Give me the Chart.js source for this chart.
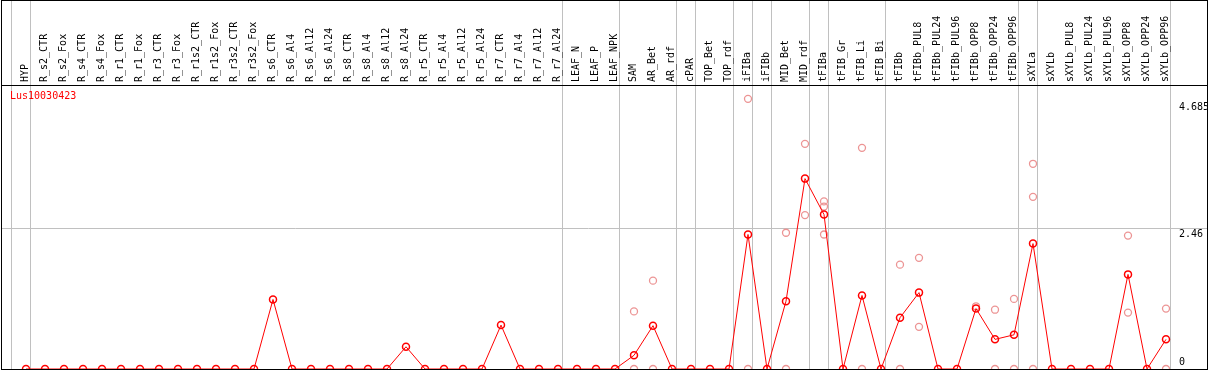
<!DOCTYPE html>
<html>
<head>
<meta charset="utf-8">
<script src="https://cdn.jsdelivr.net/npm/chart.js@4/dist/chart.umd.min.js"></script>
<style>
  body { margin: 0; background: #fff; }
  #box { position: absolute; left: 1px; top: 0; width: 1205px; height: 368px; border: 1px solid #000; }
  #gene { position: absolute; left: 10px; top: 90px; font: 10px "DejaVu Sans Mono"; line-height: 12px; color: #ff0000; }
</style>
</head>
<body>
<div id="box"><canvas id="expr_chart" width="1205" height="368"></canvas></div>
<div id="gene"></div>
<script>
const geneName = 'Lus10030423';

const samples = [
  'HYP', 'R_s2_CTR', 'R_s2_Fox', 'R_s4_CTR', 'R_s4_Fox', 'R_r1_CTR', 'R_r1_Fox', 'R_r3_CTR', 'R_r3_Fox',
  'R_r1s2_CTR', 'R_r1s2_Fox', 'R_r3s2_CTR', 'R_r3s2_Fox',
  'R_s6_CTR', 'R_s6_Al4', 'R_s6_Al12', 'R_s6_Al24', 'R_s8_CTR', 'R_s8_Al4', 'R_s8_Al12', 'R_s8_Al24',
  'R_r5_CTR', 'R_r5_Al4', 'R_r5_Al12', 'R_r5_Al24', 'R_r7_CTR', 'R_r7_Al4', 'R_r7_Al12', 'R_r7_Al24',
  'LEAF_N', 'LEAF_P', 'LEAF_NPK', 'SAM', 'AR_Bet', 'AR_rdf', 'cPAR', 'TOP_Bet', 'TOP_rdf',
  'iFIBa', 'iFIBb', 'MID_Bet', 'MID_rdf', 'tFIBa', 'tFIB_Gr', 'tFIB_Li', 'tFIB_Bi', 'tFIBb',
  'tFIBb_PUL8', 'tFIBb_PUL24', 'tFIBb_PUL96', 'tFIBb_OPP8', 'tFIBb_OPP24', 'tFIBb_OPP96',
  'sXYLa', 'sXYLb', 'sXYLb_PUL8', 'sXYLb_PUL24', 'sXYLb_PUL96', 'sXYLb_OPP8', 'sXYLb_OPP24', 'sXYLb_OPP96'
];

// mean expression per sample
const expression = [
  0, 0, 0, 0, 0, 0, 0, 0, 0, 0, 0, 0, 0,
  1.22, 0, 0, 0, 0, 0, 0, 0.39,
  0, 0, 0, 0, 0.77, 0, 0, 0,
  0, 0, 0,
  0.24, 0.76, 0, 0, 0, 0,
  2.36, 0, 1.19, 3.34, 2.71,
  0, 1.29, 0, 0.90,
  1.34, 0, 0, 1.06, 0.52, 0.60,
  2.20, 0,
  0, 0, 0, 1.66, 0, 0.52
];

// single replicates (faint circles)
const repSample = [
  'SAM', 'SAM', 'AR_Bet', 'AR_Bet', 'iFIBa', 'iFIBa', 'MID_Bet', 'MID_Bet', 'MID_rdf', 'MID_rdf',
  'tFIBa', 'tFIBa', 'tFIBa', 'tFIB_Li', 'tFIB_Li', 'tFIBb', 'tFIBb', 'tFIBb_PUL8', 'tFIBb_PUL8',
  'tFIBb_OPP8', 'tFIBb_OPP24', 'tFIBb_OPP24', 'tFIBb_OPP96', 'tFIBb_OPP96',
  'sXYLa', 'sXYLa', 'sXYLa', 'sXYLb_OPP8', 'sXYLb_OPP8', 'sXYLb_OPP96', 'sXYLb_OPP96'
];
const repValue = [
  1.01, 0, 1.55, 0, 4.74, 0, 2.39, 0, 3.95, 2.70,
  2.94, 2.85, 2.36, 3.88, 0, 1.83, 0, 1.95, 0.74,
  1.10, 1.04, 0, 1.23, 0,
  3.60, 3.02, 0, 2.34, 0.99, 1.06, 0
];

// last sample of each group, a grey line follows it
const groupEnds = [-1, 0, 28, 31, 34, 35, 37, 38, 39, 41, 42, 45, 52, 53, 60];
const yTicks = [0, 2.46, 4.685];

const monoFont = { family: 'DejaVu Sans Mono', size: 10 };
const xMin = -24 / 19;
const xMax = xMin + 1173 / 19;
const yMax = 284 / 57;

document.getElementById('gene').textContent = geneName;

new Chart(document.getElementById('expr_chart'), {
    type: 'line',
    data: {
        datasets: [
            {
                label: geneName,
                data: expression.map((v, i) => ({ x: i, y: v })),
                borderColor: '#ff0000',
                borderWidth: 1,
                tension: 0,
                pointRadius: 3.5,
                pointBorderWidth: 1.5,
                pointBorderColor: '#ff0000',
                pointBackgroundColor: 'rgba(0,0,0,0)'
            },
            {
                label: 'replicates',
                data: repValue.map((v, i) => ({ x: samples.indexOf(repSample[i]), y: v })),
                showLine: false,
                pointRadius: 3.5,
                pointBorderWidth: 1.3,
                pointBorderColor: '#ec9494',
                pointBackgroundColor: 'rgba(0,0,0,0)'
            }
        ]
    },
    options: {
        animation: false,
        responsive: false,
        devicePixelRatio: 1,
        layout: { padding: 0, autoPadding: false },
        plugins: {
            legend: { display: false },
            tooltip: { enabled: false }
        },
        scales: {
            x: {
                type: 'linear',
                position: 'top',
                min: xMin,
                max: xMax,
                afterBuildTicks: (scale) => {
                    const t = samples.map((_, i) => ({ value: i }))
                        .concat(groupEnds.map(e => ({ value: e + 0.25 })));
                    scale.ticks = t.sort((a, b) => a.value - b.value);
                },
                afterFit: (scale) => {
                    scale.height = 84;
                    scale.paddingLeft = 0;
                    scale.paddingRight = 0;
                },
                ticks: {
                    autoSkip: false,
                    minRotation: 90,
                    maxRotation: 90,
                    padding: -81,
                    labelOffset: 11,
                    color: '#000',
                    font: monoFont,
                    callback: (v) => Number.isInteger(v) ? samples[v] : ''
                },
                grid: {
                    color: (c) => (c.tick && Number.isInteger(c.tick.value)) ? 'rgba(0,0,0,0)' : '#c0c0c0',
                    tickLength: 84,
                    lineWidth: 1
                },
                border: { display: true, color: '#000', width: 1 }
            },
            y: {
                position: 'right',
                min: 0,
                max: yMax,
                afterBuildTicks: (scale) => {
                    scale.ticks = yTicks.concat([yMax]).map(v => ({ value: v }));
                },
                afterFit: (scale) => {
                    scale.width = 32;
                    scale.paddingTop = 0;
                    scale.paddingBottom = 0;
                },
                ticks: {
                    padding: -28,
                    labelOffset: -0.5,
                    color: '#000',
                    font: { family: 'DejaVu Sans Mono', size: 10, lineHeight: 1.15 },
                    callback: (v) => {
                        if (v === 0) return ['0', ''];
                        if (v === yMax) return '';
                        return ['', String(v)];
                    }
                },
                grid: {
                    color: (c) => {
                        const v = c.tick ? c.tick.value : 0;
                        if (v === yMax) return '#000';
                        if (v === 0 || v === 4.685) return 'rgba(0,0,0,0)';
                        return '#c0c0c0';
                    },
                    tickLength: 32,
                    lineWidth: 1
                },
                border: { display: false }
            }
        }
    }
});
</script>
</body>
</html>
